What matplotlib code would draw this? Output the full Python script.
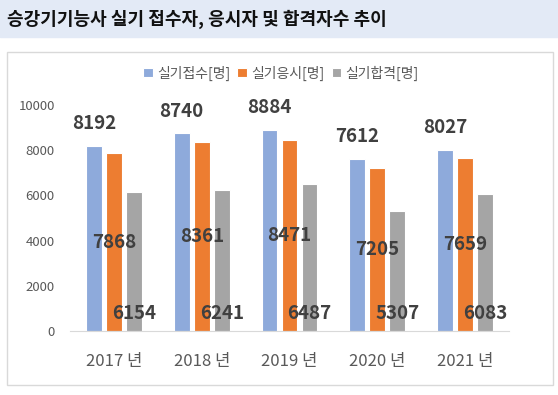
import matplotlib.pyplot as plt
import matplotlib.patches as mpatches
import numpy as np

plt.rcParams['font.family'] = ['Noto Sans CJK KR', 'DejaVu Sans']

years = ['2017 년', '2018 년', '2019 년', '2020 년', '2021 년']
series_names = ['실기접수[명]', '실기응시[명]', '실기합격[명]']
applied = [8192, 8740, 8884, 7612, 8027]
taken = [7868, 8361, 8471, 7205, 7659]
passed = [6154, 6241, 6487, 5307, 6083]
yticks = [0, 2000, 4000, 6000, 8000, 10000]

colors = ['#8eaadb', '#ed7d31', '#a5a5a5']
label_color = '#404040'
text_gray = '#595959'

fig = plt.figure(figsize=(5.58, 3.95), dpi=100)

# title band
fig.patches.append(mpatches.Rectangle((0, 1 - 37 / 395), 1, 37 / 395,
                                      transform=fig.transFigure, color='#e3eaf6', zorder=0))
fig.text(7 / 558, 1 - 19 / 395, '승강기기능사 실기 접수자, 응시자 및 합격자수 추이',
         fontsize=13, fontweight='bold', color='#111111', va='center', ha='left')

# chart border
fig.patches.append(mpatches.Rectangle((7 / 558, 1 - 385 / 395), 546 / 558, 333 / 395,
                                      transform=fig.transFigure, fill=False,
                                      edgecolor='#d9d9d9', linewidth=1, zorder=0))

ax = fig.add_axes([70 / 558, 1 - 331 / 395, 439 / 558, 226 / 395])
x = np.arange(len(years))
w = 0.18
step = 0.228

ax.bar(x - step, applied, w, color=colors[0], edgecolor='white', linewidth=0.8, label=series_names[0])
ax.bar(x, taken, w, color=colors[1], edgecolor='white', linewidth=0.8, label=series_names[1])
ax.bar(x + step, passed, w, color=colors[2], edgecolor='white', linewidth=0.8, label=series_names[2])

lab = dict(fontsize=13.5, fontweight='bold', color=label_color, ha='center', va='center')
for i in range(len(years)):
    ax.annotate(str(applied[i]), (x[i] - step, applied[i]), xytext=(0, 16),
                textcoords='offset points', **lab)
    ax.text(x[i], taken[i] / 2, str(taken[i]), **lab)
    ax.annotate(str(passed[i]), (x[i] + step, 0), xytext=(0, 12.5),
                textcoords='offset points', **lab)

ax.set_xlim(-0.5, len(years) - 0.5)
ax.set_ylim(0, 10000)
ax.set_yticks(yticks)
ax.set_yticklabels([str(v) for v in yticks], fontsize=9.5, color=text_gray)
ax.set_xticks(x)
ax.set_xticklabels(years, fontsize=12, color=text_gray)
ax.tick_params(axis='both', length=0)
ax.tick_params(axis='y', pad=11)
ax.tick_params(axis='x', pad=16)
for s in ['top', 'right', 'left']:
    ax.spines[s].set_visible(False)
ax.spines['bottom'].set_color('#d9d9d9')

fig.legend(loc='center', bbox_to_anchor=(281 / 558, 1 - 73 / 395), ncol=3, frameon=False,
           fontsize=10, labelcolor=text_gray, handlelength=0.7, handleheight=0.7,
           handletextpad=0.3, columnspacing=0.5)

fig.savefig('out.png', dpi=100)
